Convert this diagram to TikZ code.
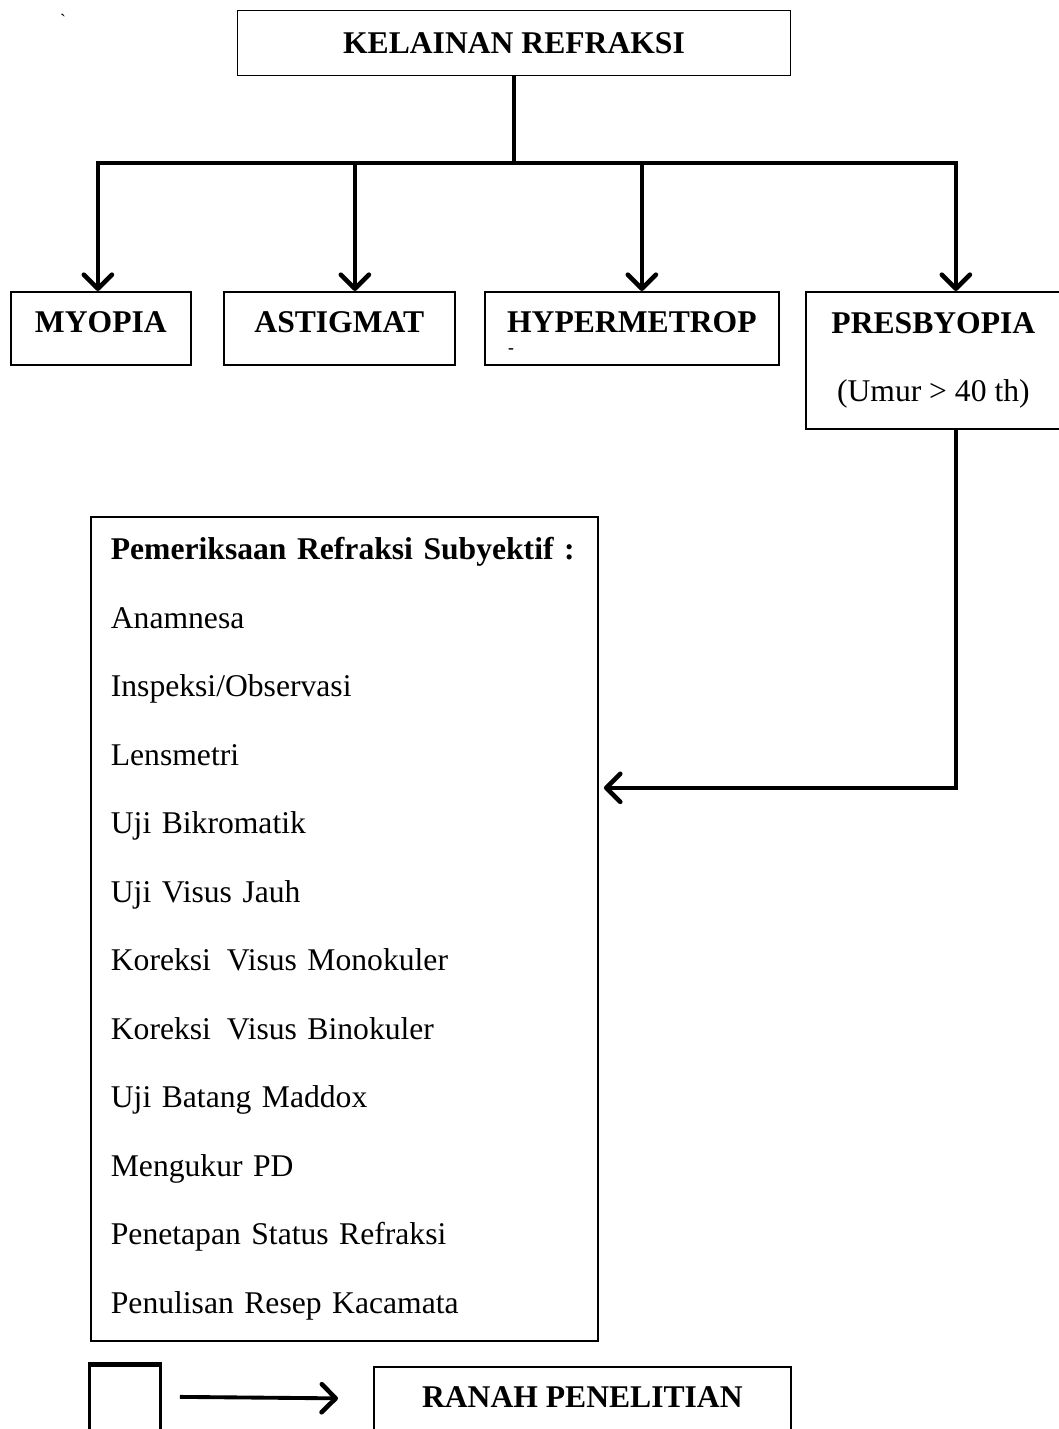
\documentclass[tikz,border=0pt]{standalone}
\usepackage{fontspec}
\setmainfont{Liberation Serif}
\usetikzlibrary{positioning,arrows.meta,calc}
\definecolor{ink}{HTML}{000000}
\tikzset{
  % --- nodes
  box/.style    = {draw=ink, line width=1pt, fill=white, align=center,
                   inner sep=0pt, font=\fontsize{18}{22}\selectfont\bfseries},
  kind/.style   = {box, anchor=north west, minimum height=1.46cm,
                   text height=12pt, text depth=7.4pt},
  listbox/.style= {draw=ink, line width=1pt, fill=white, align=left,
                   anchor=north west, minimum width=10.14cm, minimum height=16.48cm,
                   text width=9.34cm, inner xsep=0.4cm, inner ysep=0pt,
                   font=\fontsize{18}{39}\selectfont},
  legbox/.style = {draw=ink, line width=1.6pt, anchor=north west,
                   minimum width=1.42cm, minimum height=1.4cm},
  stray/.style  = {inner sep=0pt, font=\fontsize{10}{12}\selectfont},
  % --- edges
  link/.style   = {line width=2.4pt, draw=ink},
  e/.style      = {link, -{Straight Barb[length=8pt,width=16pt,line width=2.6pt,round]}},
}
\begin{document}
\begin{tikzpicture}[x=0.02cm, y=-0.02cm]
  \useasboundingbox (0,0) rectangle (1058,1429);

  \node[box, minimum width=11.06cm, minimum height=1.3cm] (top) at (514,43) {KELAINAN REFRAKSI};
  \node[stray] (tick) at (63,20) {\textasciigrave};

  \node[kind, minimum width=3.6cm] (myopia) at (10,291) {MYOPIA};
  \node[kind, minimum width=4.62cm] (astigmat) at (223,291) {ASTIGMAT};
  \node[kind, minimum width=5.88cm] (hyper) at (484,291) {HYPERMETROP};
  \node[stray] (dash) at (511,351) {\bfseries -};
  \node[box, anchor=north west, minimum width=5.1cm, minimum height=2.74cm,
        font=\fontsize{18}{39}\selectfont] (presby) at (805,291)
        {\textbf{PRESBYOPIA}\\ (Umur > 40 th)};

  \coordinate (split) at (514,163);
  \draw[link] (top.south) -- (split);
  \foreach \n/\dx in {myopia/-0.06, astigmat/0.31, hyper/0.2, presby/0.45}
    \draw[e] (split) -| ([xshift=\dx cm]\n.north);

  \node[listbox] (exam) at (90,516) {%
    \textbf{Pemeriksaan Refraksi Subyektif :}\\
    Anamnesa\\
    Inspeksi/Observasi\\
    Lensmetri\\
    Uji Bikromatik\\
    Uji Visus Jauh\\
    Koreksi\hspace{3pt} Visus Monokuler\\
    Koreksi\hspace{3pt} Visus Binokuler\\
    Uji Batang Maddox\\
    Mengukur PD\\
    Penetapan Status Refraksi\\
    Penulisan Resep Kacamata};

  \draw[e] ([xshift=0.45cm]presby.south) |- ([yshift=2.82cm, xshift=3pt]exam.east);

  % legend
  \node[legbox] (legbox) at (88,1364) {};
  \draw[line width=2.8pt] (legbox.north west) -- (legbox.north east);
  \node[box, anchor=north west, minimum width=8.34cm, minimum height=1.4cm,
        text height=12pt, text depth=6pt] (ranah) at (373,1366) {RANAH PENELITIAN};
  \draw[e, line width=2.2pt] ([xshift=0.36cm, yshift=2pt]legbox.east) -- ([xshift=-0.7cm, yshift=2pt]ranah.west);
\end{tikzpicture}
\end{document}
